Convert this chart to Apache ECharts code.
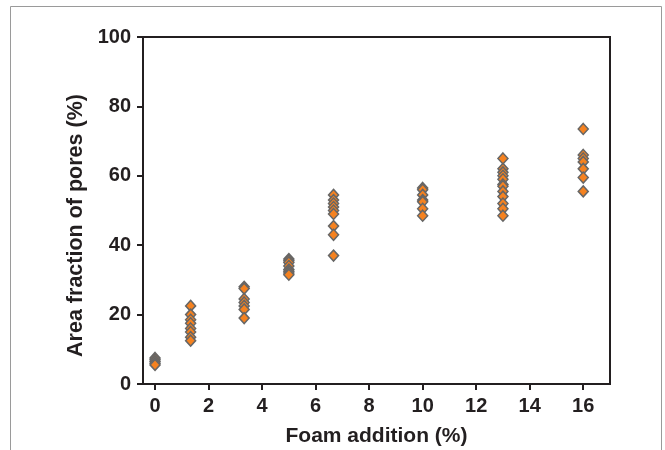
<!DOCTYPE html>
<html>
<head>
<meta charset="utf-8">
<script src="https://cdn.jsdelivr.net/npm/echarts@6/dist/echarts.min.js"></script>
<style>
  html, body { margin: 0; padding: 0; background: #ffffff; }
  #chart { width: 665px; height: 450px; }
</style>
</head>
<body>
<div id="chart"></div>
<script>
// Foam addition levels (%) and measured pore area fractions (%) at each level
const foamLevels = [0, 1.33, 3.33, 5, 6.67, 10, 13, 16];
const poresAt0 = [7.5, 7, 6.5, 6, 5.5];
const poresAt1_33 = [22.5, 20, 18.5, 17.5, 16, 15, 13.5, 12.5];
const poresAt3_33 = [28, 27.5, 24.5, 23.5, 22.5, 21.5, 19];
const poresAt5 = [36, 35.5, 35, 34, 33, 32.5, 32, 31.5];
const poresAt6_67 = [54.5, 53, 52, 51, 50, 49, 45.5, 43, 37];
const poresAt10 = [56.5, 56, 54.5, 53, 52.5, 50.5, 48.5];
const poresAt13 = [65, 62, 61, 60, 59, 57.5, 57, 55.5, 54, 52, 50.5, 48.5];
const poresAt16 = [73.5, 66, 65, 64, 62, 59.5, 55.5];

const xTicks = [0, 2, 4, 6, 8, 10, 12, 14, 16];
const yTicks = [0, 20, 40, 60, 80, 100];

const groups = [poresAt0, poresAt1_33, poresAt3_33, poresAt5, poresAt6_67, poresAt10, poresAt13, poresAt16];
const points = [];
groups.forEach((vals, i) => vals.forEach(v => points.push([foamLevels[i], v])));

const ink = '#231f20';
const font = 'Liberation Sans, Arial, sans-serif';

const chart = echarts.init(document.getElementById('chart'), null, { renderer: 'canvas' });
chart.setOption({
  backgroundColor: '#ffffff',
  animation: false,
  graphic: [{
    type: 'rect',
    shape: { x: 10.5, y: 6.5, width: 651, height: 460 },
    style: { fill: 'none', stroke: '#9a9a9a', lineWidth: 1 },
    silent: true
  }],
  grid: {
    left: 143, top: 37, right: 55, bottom: 66,
    outerBoundsMode: 'none',
    show: true, borderColor: ink, borderWidth: 2, backgroundColor: 'transparent'
  },
  xAxis: {
    type: 'value',
    min: -0.45, max: 17,
    name: 'Foam addition (%)',
    nameLocation: 'middle',
    nameGap: 42,
    nameTextStyle: { color: ink, fontFamily: font, fontWeight: 'bold', fontSize: 21 },
    axisLine: { show: true, onZero: false, lineStyle: { color: ink, width: 2 } },
    axisTick: { show: true, length: 6, lineStyle: { color: ink, width: 2 }, customValues: xTicks },
    axisLabel: { color: ink, fontFamily: font, fontWeight: 'bold', fontSize: 20, margin: 12, customValues: xTicks },
    splitLine: { show: false }
  },
  yAxis: {
    type: 'value',
    min: 0, max: 100, interval: 20,
    name: 'Area fraction of pores (%)',
    nameLocation: 'middle',
    nameGap: 56,
    nameTextStyle: { color: ink, fontFamily: font, fontWeight: 'bold', fontSize: 21.5, padding: [0, 30, 0, 0] },
    axisLine: { show: true, onZero: false, lineStyle: { color: ink, width: 2 } },
    axisTick: { show: true, length: 6, lineStyle: { color: ink, width: 2 } },
    axisLabel: { color: ink, fontFamily: font, fontWeight: 'bold', fontSize: 20, margin: 12, customValues: yTicks },
    splitLine: { show: false }
  },
  series: [{
    type: 'scatter',
    data: points,
    symbol: 'diamond',
    symbolSize: [10, 11],
    itemStyle: { color: '#f58220', borderColor: '#666666', borderWidth: 1.5, opacity: 1 }
  }]
});
</script>
</body>
</html>
